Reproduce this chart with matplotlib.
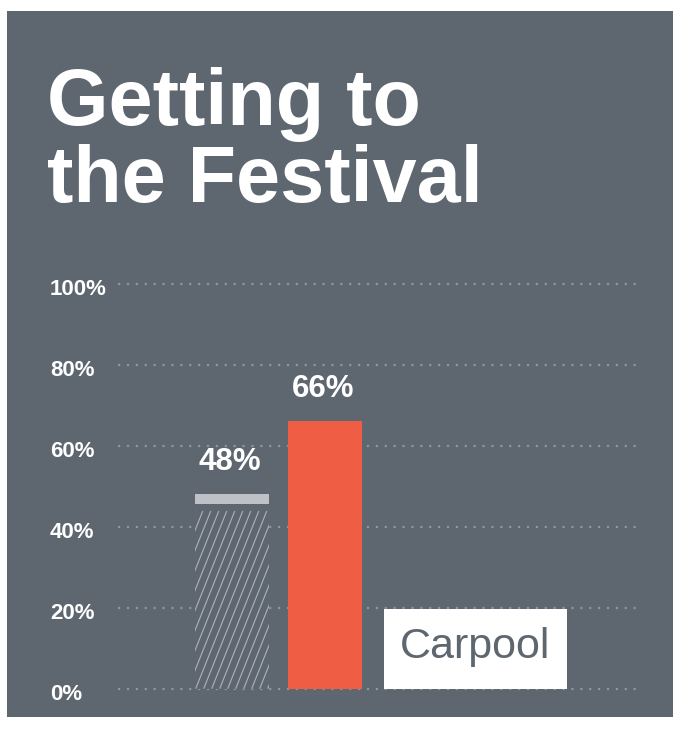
import numpy as np
import matplotlib
matplotlib.use("Agg")
import matplotlib.pyplot as plt
import matplotlib.transforms as mtransforms
from matplotlib.patches import Rectangle
from matplotlib.collections import LineCollection

# data
categories = ["Previous", "Carpool"]
values = [48, 66]
value_labels = ["48%", "66%"]
yticks = [0, 20, 40, 60, 80, 100]
ytick_labels = ["0%", "20%", "40%", "60%", "80%", "100%"]
title_lines = ["Getting to", "the Festival"]
legend_label = "Carpool"

# colours
bg = "#5e6770"
red = "#f05d45"
cap_gray = "#bec1c5"
hatch_col = "#aeb3b9"
dot_col = "#8e959c"

W, H = 673, 737
fig = plt.figure(figsize=(W / 100, H / 100), dpi=100, facecolor="white")

# gray panel
fig.patches.append(Rectangle((7 / W, 20 / H), 1 - 7 / W, (H - 31) / H,
                             transform=fig.transFigure, facecolor=bg,
                             edgecolor="none", zorder=-10))

# title
fig.text(47 / W, 1 - 125 / H, title_lines[0], color="white", fontsize=57,
         fontweight="bold", family="Liberation Sans", va="baseline")
fig.text(47 / W, 1 - 202 / H, title_lines[1], color="white", fontsize=57,
         fontweight="bold", family="Liberation Sans", va="baseline")

ax_l, ax_r = 118, 636
ax_b, ax_t = 688.7, 283.7
ax = fig.add_axes([ax_l / W, 1 - ax_b / H, (ax_r - ax_l) / W, (ax_b - ax_t) / H])
ax.set_zorder(5)
ax.set_facecolor("none")
ax.set_xlim(0, 7)
ax.set_ylim(0, 100)
for s in ax.spines.values():
    s.set_visible(False)

# dotted gridlines
for yv in yticks:
    ax.axhline(yv, color=dot_col, lw=1.6, linestyle=(0, (1, 3)),
               clip_on=False, zorder=1)

ax.set_xticks([])
ax.set_yticks(yticks)
ax.set_yticklabels(ytick_labels)
ax.tick_params(axis="y", length=0, pad=(ax_l - 50) * 0.72, colors="white")
shift = mtransforms.ScaledTranslation(0, -3 / 100, fig.dpi_scale_trans)
for lab in ax.get_yticklabels():
    lab.set_horizontalalignment("left")
    lab.set_fontsize(16)
    lab.set_fontweight("bold")
    lab.set_family("Liberation Sans")
    lab.set_transform(lab.get_transform() + shift)

bar_x = [1.54, 2.80]
bar_w = 1.0

# previous value: hatched bar with a thin cap at the top
cap_h = 2.5
gap = 1.5
hatch_top = values[0] - cap_h - gap
hbar = ax.bar(bar_x[0], hatch_top, width=bar_w, color=bg, edgecolor="none",
              zorder=2)[0]
ax.bar(bar_x[0], cap_h, bottom=values[0] - cap_h, width=bar_w,
       color=cap_gray, edgecolor="none", zorder=2)

# steep hatch lines clipped to the bar
px_x = (ax_r - ax_l) / 7
px_y = (ax_b - ax_t) / 100
slope = 2.5 * px_x / px_y  # data units
step = 8 / px_x
x0 = bar_x[0] - bar_w / 2
run = hatch_top / slope
segs = [[(k, 0), (k + run, hatch_top)]
        for k in np.arange(x0 - run, x0 + bar_w, step)]
lc = LineCollection(segs, colors=hatch_col, linewidths=0.8, zorder=3)
ax.add_collection(lc)
lc.set_clip_path(hbar)

# carpool bar
ax.bar(bar_x[1], values[1], width=bar_w, color=red, edgecolor="none", zorder=2)

# value labels
for xv, v, t in zip(bar_x, values, value_labels):
    ax.text(xv - 0.03, v + 6, t, color="white", fontsize=22.5, fontweight="bold",
            family="Liberation Sans", ha="center", va="baseline", zorder=4)

# category label box
ax.add_patch(Rectangle((3.595, 0), 2.473, 19.7, facecolor="white",
                       edgecolor="none", zorder=2))
ax.text(4.83, 10.2, legend_label, color=bg, fontsize=31,
        family="Liberation Sans", ha="center", va="center", zorder=4)

fig.savefig("out.png", dpi=100, facecolor="white")
